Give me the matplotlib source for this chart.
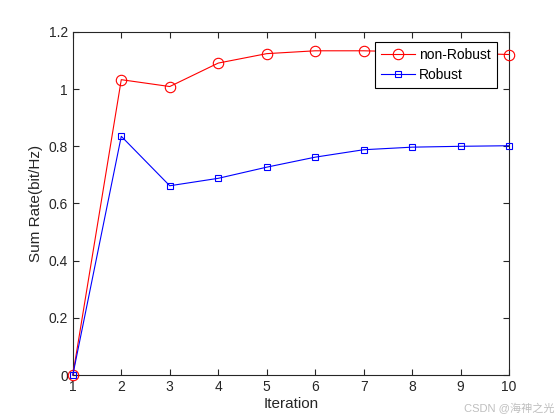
import matplotlib
matplotlib.use("Agg")
from matplotlib import pyplot as plt

plt.rcParams.update({"font.family": ["Liberation Sans", "Noto Sans CJK SC", "DejaVu Sans"],
                     "font.size": 10})

iteration = [1, 2, 3, 4, 5, 6, 7, 8, 9, 10]
non_robust = [0.0, 1.033, 1.009, 1.091, 1.124, 1.134, 1.134, 1.130, 1.126, 1.121]
robust = [0.0, 0.835, 0.662, 0.688, 0.727, 0.762, 0.788, 0.797, 0.800, 0.802]

fig = plt.figure(figsize=(5.6, 4.2), dpi=100)
ax = fig.add_axes([0.13, 0.107, 0.779, 0.817])

ax.plot(iteration, non_robust, "r-o", mfc="none", ms=7.5, lw=0.8, mew=0.8,
        label="non-Robust", clip_on=False, zorder=3)
ax.plot(iteration, robust, "b-s", mfc="none", ms=5, lw=0.8, mew=0.8,
        label="Robust", clip_on=False, zorder=3)

ax.set_xlim(1, 10)
ax.set_ylim(0, 1.2)
ax.set_xticks(iteration)
ax.set_yticks([0, 0.2, 0.4, 0.6, 0.8, 1, 1.2])
ax.set_yticklabels(["0", "0.2", "0.4", "0.6", "0.8", "1", "1.2"])
ax.tick_params(direction="in", top=True, right=True, colors="0.15", labelsize=10, length=4)
for s in ax.spines.values():
    s.set_color("0.15")
    s.set_linewidth(0.8)
ax.set_xlabel("Iteration", color="0.15", fontsize=11, labelpad=2)
ax.set_ylabel("Sum Rate(bit/Hz)", color="0.15", fontsize=11)

leg = ax.legend(loc="upper right", bbox_to_anchor=(0.972, 0.971), fancybox=False,
                edgecolor="black", framealpha=1, borderpad=0.45, handlelength=2.4,
                handletextpad=0.3, labelspacing=0.4, borderaxespad=0)
leg.get_frame().set_linewidth(0.8)
leg.set_zorder(5)

fig.text(0.99, 0.015, "CSDN @海神之光", ha="right", va="bottom", color="0.75", fontsize=8)

fig.savefig("out.png", dpi=100)
